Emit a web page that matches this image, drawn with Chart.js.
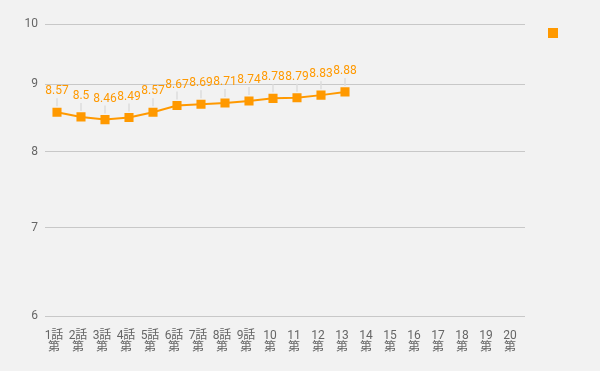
<!DOCTYPE html>
<html lang="ja">
<head>
  <meta charset="UTF-8" />
  <title>Episode ratings</title>
  <script src="https://cdn.jsdelivr.net/npm/chart.js"></script>
  <style>
    body {
      margin: 0;
      padding: 0;
      background-color: #f2f2f2;
      font-family: Roboto, 'Noto Sans CJK JP', sans-serif;
    }
    #wrap {
      width: 600px;
      height: 371px;
    }
  </style>
</head>
<body>
  <div id="wrap"><canvas id="chart"></canvas></div>

  <script>
    const episodes = [
      '第1話', '第2話', '第3話', '第4話', '第5話', '第6話', '第7話', '第8話', '第9話', '第10話',
      '第11話', '第12話', '第13話', '第14話', '第15話', '第16話', '第17話', '第18話', '第19話', '第20話'
    ];
    const ratings = [8.57, 8.5, 8.46, 8.49, 8.57, 8.67, 8.69, 8.71, 8.74, 8.78, 8.79, 8.83, 8.88,
      null, null, null, null, null, null, null];
    const yTicks = [6, 7, 8, 9, 10];

    const orange = '#ff9900';

    // value labels above each point, with a thin leader line down to it
    const valueLabels = {
      id: 'valueLabels',
      afterDatasetsDraw(chart) {
        const ctx = chart.ctx;
        const meta = chart.getDatasetMeta(0);
        ctx.save();
        ctx.font = '12px Roboto, sans-serif';
        ctx.textAlign = 'center';
        ctx.textBaseline = 'middle';
        meta.data.forEach((pt, i) => {
          const v = ratings[i];
          if (v == null) return;
          ctx.strokeStyle = '#dcdcdc';
          ctx.lineWidth = 1.5;
          ctx.beginPath();
          ctx.moveTo(pt.x, pt.y - 14);
          ctx.lineTo(pt.x, pt.y - 6);
          ctx.stroke();
          ctx.fillStyle = orange;
          ctx.fillText(String(v), pt.x, pt.y - 21);
        });
        ctx.restore();
      }
    };

    // lift the legend marker up to the top right corner
    const legendNudge = {
      id: 'legendNudge',
      afterLayout(chart) {
        chart.legend.top -= 21;
        chart.legend.bottom -= 21;
      }
    };

    Chart.defaults.font.family = "Roboto, 'Noto Sans CJK JP', sans-serif";
    Chart.defaults.color = '#666';

    new Chart(document.getElementById('chart'), {
      type: 'line',
      data: {
        labels: episodes,
        datasets: [{
          label: '',
          data: ratings,
          borderColor: orange,
          backgroundColor: orange,
          borderWidth: 2,
          pointStyle: 'rect',
          pointRadius: 5,
          pointHoverRadius: 5,
          tension: 0
        }]
      },
      options: {
        responsive: true,
        maintainAspectRatio: false,
        animation: false,
        layout: { padding: { top: 24, right: 27, bottom: 0, left: 0 } },
        scales: {
          x: {
            offset: true,
            grid: { display: false },
            border: { display: false },
            ticks: {
              autoSkip: false,
              maxRotation: 0,
              minRotation: 0,
              padding: 6,
              labelOffset: -3,
              font: { size: 12, lineHeight: 1 },
              callback: function (val, i) {
                const n = episodes[i].replace('第', '').replace('話', '');
                return [i < 9 ? n + '話' : n, '第'];
              }
            },
            afterFit(scale) { scale.height = 55; }
          },
          y: {
            type: 'logarithmic',
            min: 6,
            max: 10,
            afterBuildTicks(scale) {
              scale.ticks = yTicks.map(v => ({ value: v }));
            },
            grid: { color: '#c8c8c8', drawTicks: false },
            border: { display: false },
            ticks: {
              padding: 7,
              font: { size: 12 },
              callback: v => String(v)
            },
            afterFit(scale) { scale.width = 45; }
          }
        },
        plugins: {
          legend: {
            position: 'right',
            align: 'start',
            labels: {
              usePointStyle: true,
              pointStyle: 'rect',
              boxWidth: 8,
              boxHeight: 8,
              padding: 24,
              font: { size: 12 }
            }
          },
          tooltip: { enabled: false }
        }
      },
      plugins: [valueLabels, legendNudge]
    });
  </script>
</body>
</html>
